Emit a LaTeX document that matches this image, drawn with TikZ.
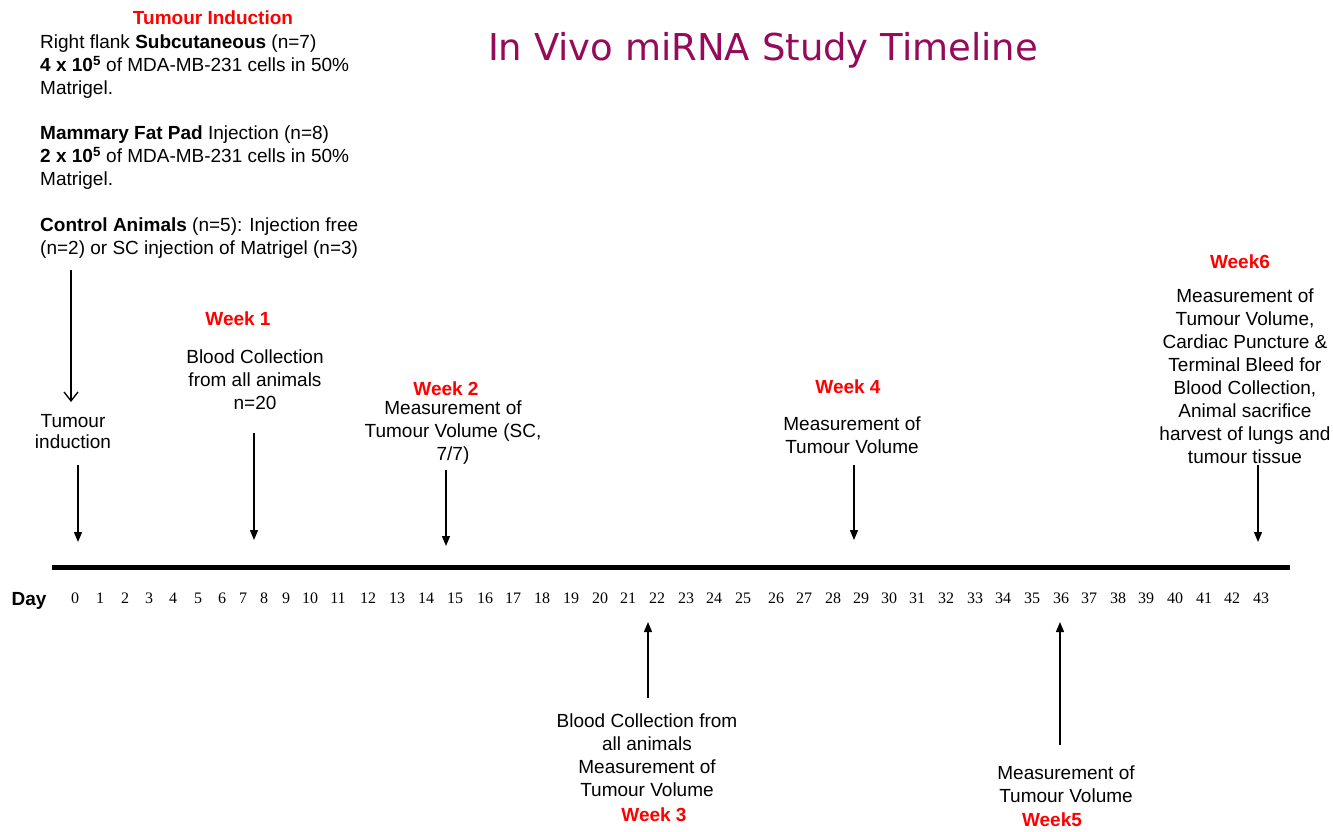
\documentclass[tikz,border=0pt]{standalone}
\usepackage{fontspec}
\setmainfont{Liberation Sans}
\newfontfamily\titlefont{DejaVu Sans}
\newfontfamily\dayfont{Liberation Serif}
\usetikzlibrary{arrows.meta}
\definecolor{titlepurple}{RGB}{150,10,90}
\tikzset{
	txt/.style={align=center,inner sep=0pt,font=\fontsize{19}{23}\selectfont},
	para/.style={align=left,inner sep=0pt,anchor=north west,font=\fontsize{19}{23}\selectfont},
	wk/.style={inner sep=0pt,text=red,font=\fontsize{19}{23}\selectfont\bfseries},
	dn/.style={line width=1.3pt,-{Triangle[length=10pt,width=8pt]}},
}

\begin{document}
\begin{tikzpicture}[x=1pt,y=-1pt]
	\useasboundingbox[fill=white] (0,0) rectangle (1333,832);
	\path
	(52,567) coordinate (L) (1290,567) coordinate (R)
	(71,270) coordinate (I1) (71,402) coordinate (I2)
	(78,465) coordinate (D0) (78,542) coordinate (D0')
	(254,433) coordinate (W1) (254,540) coordinate (W1')
	(446,470) coordinate (W2) (446,546) coordinate (W2')
	(648,698) coordinate (W3) (648,622) coordinate (W3')
	(854,465) coordinate (W4) (854,540) coordinate (W4')
	(1060,745) coordinate (W5) (1060,622) coordinate (W5')
	(1258,465) coordinate (W6) (1258,542) coordinate (W6');
	% title and induction text
	\node[font=\titlefont\fontsize{37}{40}\selectfont,text=titlepurple] (title) at (763,50) {In Vivo miRNA Study Timeline};
	\node[wk] (ti) at (213,18) {Tumour Induction};
	\node[para] (sc) at (40,35) {Right flank \textbf{Subcutaneous} (n=7)\\\textbf{4 x 10\textsuperscript{5}} of MDA-MB-231 cells in 50\%\\Matrigel.};
	\node[para] (mfp) at (40,126) {\textbf{Mammary Fat Pad} Injection (n=8)\\\textbf{2 x 10\textsuperscript{5}} of MDA-MB-231 cells in 50\%\\Matrigel.};
	\node[para] (ctrl) at (40,218) {\textbf{Control Animals} (n=5): Injection free\\(n=2) or SC injection of Matrigel (n=3)};
	\node[txt,font=\fontsize{19}{21}\selectfont] (ind) at (73,432) {Tumour\\induction};
	% events above the line
	\node[wk] (wk1) at (238,319) {Week 1};
	\node[txt] (bc1) at (255,380) {Blood Collection\\from all animals\\n=20};
	\node[wk] (wk2) at (446,389) {Week 2};
	\node[txt] (m2) at (453,433) {Measurement of\\Tumour Volume (SC,\\7/7)};
	\node[wk] (wk4) at (848,387) {Week 4};
	\node[txt] (m4) at (852,435) {Measurement of\\Tumour Volume};
	\node[wk] (wk6) at (1240,262) {Week6};
	\node[txt] (m6) at (1245,376) {Measurement of\\Tumour Volume,\\Cardiac Puncture \&\\Terminal Bleed for\\Blood Collection,\\Animal sacrifice\\harvest of lungs and\\tumour tissue};
	% events below the line
	\node[txt] (bc3) at (647,755) {Blood Collection from\\all animals\\Measurement of\\Tumour Volume};
	\node[wk] (wk3) at (654,815) {Week 3};
	\node[txt] (m5) at (1066,784) {Measurement of\\Tumour Volume};
	\node[wk] (wk5) at (1052,820) {Week5};
	% timeline
	\draw[line width=5pt] (L)--(R);
	\node[font=\fontsize{19}{23}\selectfont\bfseries,inner sep=0pt] (day) at (29,601) {Day};
	\foreach \d/\x in {0/75,1/100,2/125,3/149,4/173,5/198,6/222,7/243,8/264,9/286,10/310,11/338,12/368,13/397,14/426,15/455,16/485,17/513,18/542,19/571,20/600,21/628,22/657,23/686,24/714,25/743,26/776,27/804,28/833,29/861,30/889,31/917,32/946,33/975,34/1003,35/1032,36/1061,37/1089,38/1118,39/1146,40/1175,41/1204,42/1232,43/1261}
		\node[font=\dayfont\fontsize{16}{18}\selectfont,inner sep=0pt] (d\d) at (\x,598) {\d};
	\draw[line width=1.3pt,-{Straight Barb[length=9pt,width=14pt]}] (I1)--(I2);
	\foreach \a in {D0,W1,W2,W3,W4,W5,W6} \draw[dn] (\a)--(\a');
\end{tikzpicture}
\end{document}
